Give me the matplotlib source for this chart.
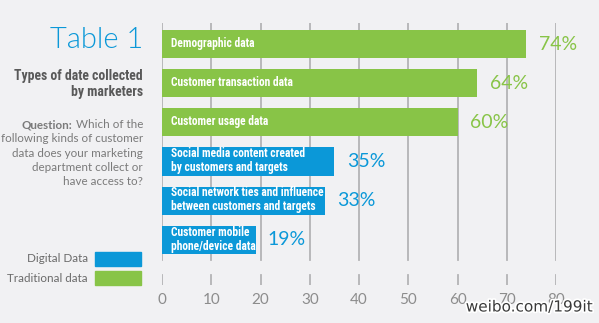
import matplotlib
matplotlib.use("Agg")
import matplotlib.pyplot as plt
from matplotlib.patches import Rectangle
import matplotlib.patheffects as pe

categories = ["Demographic data", "Customer transaction data", "Customer usage data",
              "Social media content created\nby customers and targets",
              "Social network ties and influence\nbetween customers and targets",
              "Customer mobile\nphone/device data"]
values = [74, 64, 60, 35, 33, 19]
kinds = ["traditional", "traditional", "traditional", "digital", "digital", "digital"]
ticks = [0, 10, 20, 30, 40, 50, 60, 70, 80]

green = "#88c447"
blue = "#0b98d8"
bg = "#f1f1f3"
grid_c = "#b4b4b6"
colors = {"traditional": green, "digital": blue}
narrow = ["Roboto Condensed", "Liberation Sans Narrow", "DejaVu Sans"]
light = ["Lato", "Open Sans", "DejaVu Sans"]

W, H = 599, 323
fig = plt.figure(figsize=(W / 100, H / 100), dpi=100)
fig.patch.set_facecolor(bg)

# axes placed in pixel terms: x=0 at 162px, x=80 at 556px; top 23px, bottom 285px
ax = fig.add_axes([162 / W, 1 - 285 / H, (556 - 162) / W, 262 / H])
ax.set_facecolor("none")
ax.set_xlim(0, 80)
ax.set_ylim(6.15, -0.536)
for s in ax.spines.values():
    s.set_visible(False)
ax.set_yticks([])
ax.set_xticks(ticks)
ax.set_xticklabels([str(t) for t in ticks], color="#8c8c8c", fontsize=11, family=light)
ax.tick_params(axis="x", length=0, pad=6)

for t in ticks:
    ax.axvline(t, ymin=0.095, ymax=1, color=grid_c, lw=1.3, zorder=0)
    ax.axvline(t, ymin=0, ymax=0.038, color=grid_c, lw=1.3, zorder=0)

for i, (cat, v, k) in enumerate(zip(categories, values, kinds)):
    c = colors[k]
    ax.barh(i, v, height=0.72, color=c, zorder=2)
    ax.text(v + 2.5, i, f"{v}%", color=c, fontsize=14, va="center", ha="left",
            family=light, fontweight=400)
    ax.text(1.9, i - 0.02, cat, color="white", fontsize=8.3, fontweight="bold",
            va="center", ha="left", family=narrow, linespacing=1.1, zorder=3)

# left side text
def px(x, y):
    return x / W, 1 - y / H

fig.text(*px(143, 40), "Table 1", color=blue, fontsize=21, ha="right", va="center",
         family=light, fontweight=300)
fig.text(*px(143, 84), "Types of date collected\nby marketers", color="#595959",
         fontsize=9.9, fontweight="bold", ha="right", va="center", family=narrow,
         linespacing=1.25)
q_color = "#7a7a7a"
q_size = 8.4
t1 = fig.text(*px(143, 125), " Which of the", color=q_color, fontsize=q_size,
              ha="right", va="center", family=light)
fig.canvas.draw()
bb = t1.get_window_extent()
fig.text(bb.x0 / W, 1 - 125 / H, "Question:", color=q_color, fontsize=q_size,
         fontweight="bold", ha="right", va="center", family=light)
q_lines = ["following kinds of customer", "data does your marketing",
           "department collect or", "have access to?"]
for j, line in enumerate(q_lines):
    fig.text(*px(143, 139 + j * 14.2), line, color=q_color, fontsize=q_size,
             ha="right", va="center", family=light)

# legend
legend = [("Digital Data", blue, 259), ("Traditional data", green, 278)]
for lab, c, yc in legend:
    fig.text(*px(88, yc), lab, color="#6a6a6a", fontsize=q_size, ha="right",
             va="center", family=light)
    fig.patches.append(Rectangle(px(95, yc + 7), 46 / W, 14 / H, color=c,
                                 transform=fig.transFigure, figure=fig))

wm = fig.text(*px(593, 307), "weibo.com/199it", color="#3a3a3a", fontsize=11,
              ha="right", va="center")
wm.set_path_effects([pe.withStroke(linewidth=2.5, foreground="white")])

fig.savefig("out.png", dpi=100, facecolor=bg)
